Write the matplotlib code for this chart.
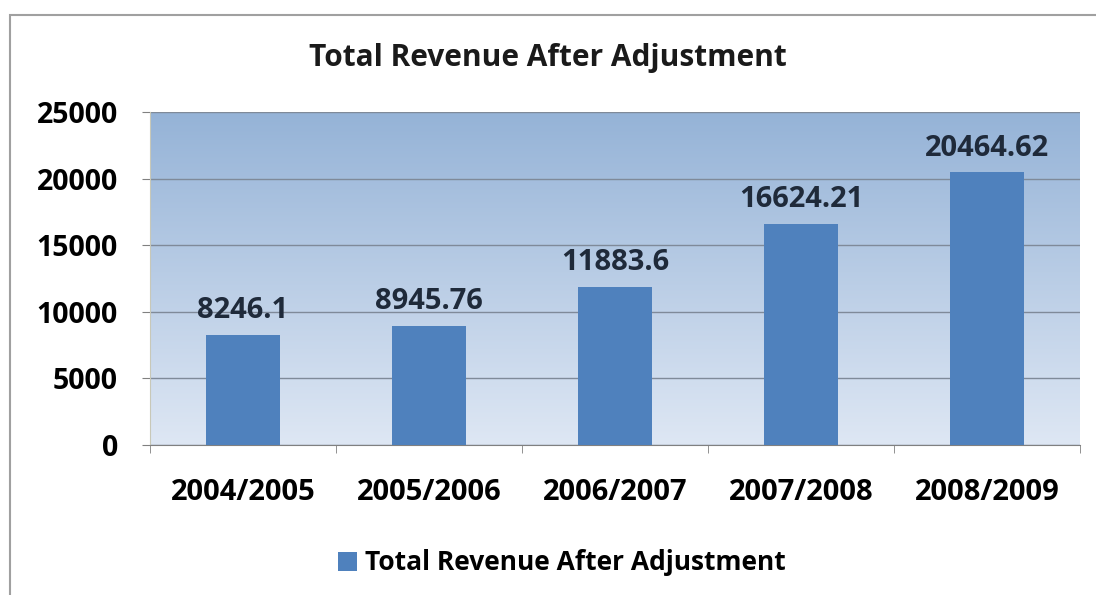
import numpy as np
import matplotlib.pyplot as plt
from matplotlib.patches import Rectangle

years = ["2004/2005", "2005/2006", "2006/2007", "2007/2008", "2008/2009"]
revenue = [8246.1, 8945.76, 11883.6, 16624.21, 20464.62]
labels = ["8246.1", "8945.76", "11883.6", "16624.21", "20464.62"]
title = "Total Revenue After Adjustment"

plt.rcParams["font.family"] = ["Open Sans", "DejaVu Sans"]
plt.rcParams["font.weight"] = "bold"

fig = plt.figure(figsize=(10.96, 5.95), dpi=100)
fig.patch.set_facecolor("white")
# outer chart border
fig.patches.append(Rectangle((10 / 1096, -0.01), 1.0, 1 - 15 / 595 + 0.01,
                             transform=fig.transFigure, fill=False,
                             edgecolor="#a0a0a0", linewidth=1.5))

ax = fig.add_axes([150 / 1096, 1 - 445 / 595, 930 / 1096, 333 / 595])

# gradient plot area, darker blue at top
grad = np.linspace(0, 1, 256).reshape(-1, 1)
top = np.array([149, 179, 215]) / 255
bot = np.array([222, 231, 244]) / 255
cols = top[None, :] * (1 - grad) + bot[None, :] * grad
ax.imshow(cols[:, None, :], extent=(-0.5, 4.5, 0, 25000), aspect="auto",
          zorder=0, origin="upper")

x = np.arange(len(years))
bars = ax.bar(x, revenue, width=0.4, color="#4f81bd", zorder=3, label=title)
for xi, v, lab in zip(x, revenue, labels):
    ax.annotate(lab, (xi, v), xytext=(0, 7), textcoords="offset points",
                ha="center", va="bottom", fontsize=21, fontweight="bold",
                color="#1f2a3a", zorder=4)

ax.set_xlim(-0.5, 4.5)
ax.set_ylim(0, 25000)
ax.set_yticks(range(0, 25001, 5000))
ax.tick_params(axis="y", labelsize=20.5, length=6, color="#808080", pad=17)
ax.set_yticklabels([str(v) for v in range(0, 25001, 5000)], fontweight="bold")
ax.yaxis.grid(True, color="#7f8a99", linewidth=1, zorder=1)
ax.set_axisbelow(True)

ax.set_xticks(x)
ax.set_xticklabels(years, fontsize=21, fontweight="bold")
ax.tick_params(axis="x", length=0, pad=24)
ax.set_xticks(np.arange(-0.5, 5, 1), minor=True)
ax.tick_params(axis="x", which="minor", length=6, color="#808080")

for s in ["top", "right"]:
    ax.spines[s].set_visible(False)
ax.spines["left"].set_color("#c8c8b8")
ax.spines["bottom"].set_color("#808080")

fig.text(0.5, 1 - 58 / 595, title, ha="center", va="center", fontsize=21.5,
         fontweight="bold", color="#1a1a1a")
fig.legend(handles=[bars], labels=[title], loc="center",
           bbox_to_anchor=(562 / 1096, 1 - 563 / 595), frameon=False,
           handlelength=0.7, handleheight=0.7, handletextpad=0.3,
           prop={"weight": "bold", "size": 19})

fig.savefig("out.png", dpi=100)
